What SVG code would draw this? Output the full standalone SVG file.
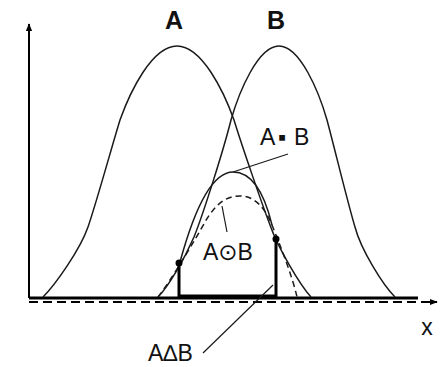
<svg xmlns="http://www.w3.org/2000/svg" width="445" height="367" viewBox="0 0 445 367">
<style>
.curve{fill:none;stroke:#1a1a1a;stroke-width:1.5}
.dash{fill:none;stroke:#1a1a1a;stroke-width:1.5;stroke-dasharray:6 4}
.thick{fill:none;stroke:#000;stroke-width:3}
.thin{fill:none;stroke:#1a1a1a;stroke-width:1.2}
.lbl{font-family:"Liberation Sans","DejaVu Sans",sans-serif;font-size:23px;fill:#111}
.big{font-family:"Liberation Sans","DejaVu Sans",sans-serif;font-size:25px;font-weight:bold;fill:#111}
</style>
<defs>
<marker id="arr" viewBox="0 0 10 10" refX="9" refY="5" markerWidth="8" markerHeight="8" markerUnits="userSpaceOnUse" orient="auto">
<path d="M0,1 L10,5 L0,9 Z" fill="#000"/>
</marker>
</defs>
<g id="axes">
<line x1="29" y1="298" x2="29" y2="24" stroke="#000" stroke-width="2" marker-end="url(#arr)"/>
<line x1="29" y1="302" x2="437" y2="302" stroke="#000" stroke-width="2" stroke-dasharray="9 5" marker-end="url(#arr)"/>
<line x1="29" y1="298" x2="418" y2="298" stroke="#000" stroke-width="3"/>
<text class="lbl" x="427" y="335" text-anchor="middle">x</text>
</g>
<g id="setA">
<path class="curve" d="M43,297 C55,285 80,250 88,227 C96,204 112,146 120,120 C130,92 152,46 177,46 C202,46 224,92 234,120 C242,146 262,204 270,225 C278,248 300,285 311,297"/>
<text class="big" x="174" y="29" text-anchor="middle">A</text>
</g>
<g id="setB">
<path class="curve" d="M158,297 C168,287 184,260 194,237 C204,212 224,148 231,120 C239,92 258,46 279,46 C300,46 319,92 327,120 C334,146 348,204 355,227 C361,250 383,285 395,297"/>
<text class="big" x="276" y="29" text-anchor="middle">B</text>
</g>
<g id="product">
<path class="curve" d="M180,262 C186,240 205,172 233,172 C255,172 266,200 272,225"/>
<text class="lbl" x="260 278 294" y="145">A▪B</text>
</g>
<g id="circledot">
<path class="dash" d="M158,297 C170,282 195,240 205,222 C215,205 225,196 240,196 C255,196 265,208 272,225 C280,245 292,275 297,297"/>
<text class="lbl" x="203" y="260">A⊙B</text>
</g>
<g id="delta">
<path class="thick" d="M179,263 L179,297 M179,296 L276,296 M276,239 L276,297"/>
<circle cx="179" cy="263" r="3.5" fill="#000"/>
<circle cx="276" cy="239" r="3.5" fill="#000"/>
<text class="lbl" x="148" y="361" font-size="22">A∆B</text>
</g>
<g id="connectors">
<line class="thin" x1="288" y1="154" x2="233" y2="172"/>
<line class="thin" x1="227" y1="232" x2="222" y2="206"/>
<line class="thin" x1="203" y1="353" x2="273" y2="285"/>
</g>
</svg>
